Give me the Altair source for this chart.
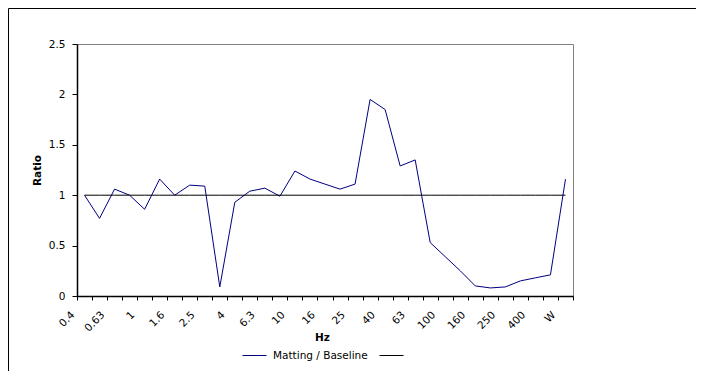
import altair as alt
import pandas as pd

categories = ["0.4", "0.5", "0.63", "0.8", "1", "1.25", "1.6", "2", "2.5", "3.15",
              "4", "5", "6.3", "8", "10", "12.5", "16", "20", "25", "31.5",
              "40", "50", "63", "80", "100", "125", "160", "200", "250", "315",
              "400", "500", "W"]
ratio = [1.00, 0.77, 1.06, 1.00, 0.86, 1.16, 1.00, 1.10, 1.09, 0.09,
         0.93, 1.04, 1.07, 0.99, 1.24, 1.16, 1.11, 1.06, 1.11, 1.95,
         1.85, 1.29, 1.35, 0.53, 0.39, 0.25, 0.10, 0.08, 0.09, 0.15,
         0.18, 0.21, 1.16]
baseline = [1.0] * len(categories)
series_names = ["Matting / Baseline", "Baseline"]
series_colors = ["#000080", "#000000"]
y_ticks = [0, 0.5, 1, 1.5, 2, 2.5]

rows = []
for c, v in zip(categories, ratio):
    rows.append({"hz": c, "value": v, "series": series_names[0]})
for c, v in zip(categories, baseline):
    rows.append({"hz": c, "value": v, "series": series_names[1]})
df = pd.DataFrame(rows)

FONT = "DejaVu Sans, Arial, sans-serif"
FS = 10.5
cat_js = "[" + ",".join("'%s'" % c for c in categories) + "]"

lines = alt.Chart(df).mark_line(strokeWidth=1).encode(
    x=alt.X("hz:N", sort=categories,
            scale=alt.Scale(type="band", paddingInner=0, paddingOuter=0),
            axis=alt.Axis(title="Hz", tickBand="extent", labelAngle=315,
                          labelAlign="right", labelBaseline="middle",
                          labelExpr="indexof(" + cat_js + ", datum.value) % 2 == 0 ? datum.value : ''",
                          labelPadding=13, labelOffset=-12, tickSize=4,
                          domainWidth=1.5,
                          titleX=245, titleY=41, titleBaseline="middle",
                          titleAlign="center")),
    y=alt.Y("value:Q", scale=alt.Scale(domain=[0, 2.5], nice=False, zero=True),
            axis=alt.Axis(title="Ratio", values=y_ticks, grid=False,
                          labelExpr="'' + datum.value", tickSize=5,
                          labelPadding=7, domainWidth=1.5,
                          titleX=-40, titleY=126, titleAngle=270,
                          titleAlign="center", titleBaseline="middle")),
    color=alt.Color("series:N",
                    scale=alt.Scale(domain=series_names, range=series_colors),
                    legend=alt.Legend(title=None, orient="none", legendX=165,
                                      legendY=299, direction="horizontal",
                                      symbolType="stroke", symbolSize=576,
                                      symbolStrokeWidth=1, columnPadding=9,
                                      labelOffset=6, padding=0,
                                      labelExpr="datum.label == 'Baseline' ? '' : datum.label")),
)

border = alt.Chart(pd.DataFrame({"k": [0]})).mark_rect(
    filled=False, stroke="#000000", strokeWidth=1
).encode(
    x=alt.value(-68.5), x2=alt.value(700), y=alt.value(-35.5), y2=alt.value(400)
)

chart = alt.layer(border, lines).properties(
    width=496, height=252, autosize="none",
    padding={"left": 69, "top": 36, "right": 123, "bottom": 75},
).configure_view(
    stroke="#808080", strokeWidth=1
).configure_axis(
    labelFont=FONT, titleFont=FONT, labelFontSize=FS, titleFontSize=FS,
    labelColor="#000000", titleColor="#000000", titleFontWeight="bold",
    domainColor="#000000", tickColor="#000000"
).configure_legend(
    labelFont=FONT, labelFontSize=FS, labelColor="#000000"
)

chart.save("out.html", embed_options={"renderer": "svg", "actions": False})
